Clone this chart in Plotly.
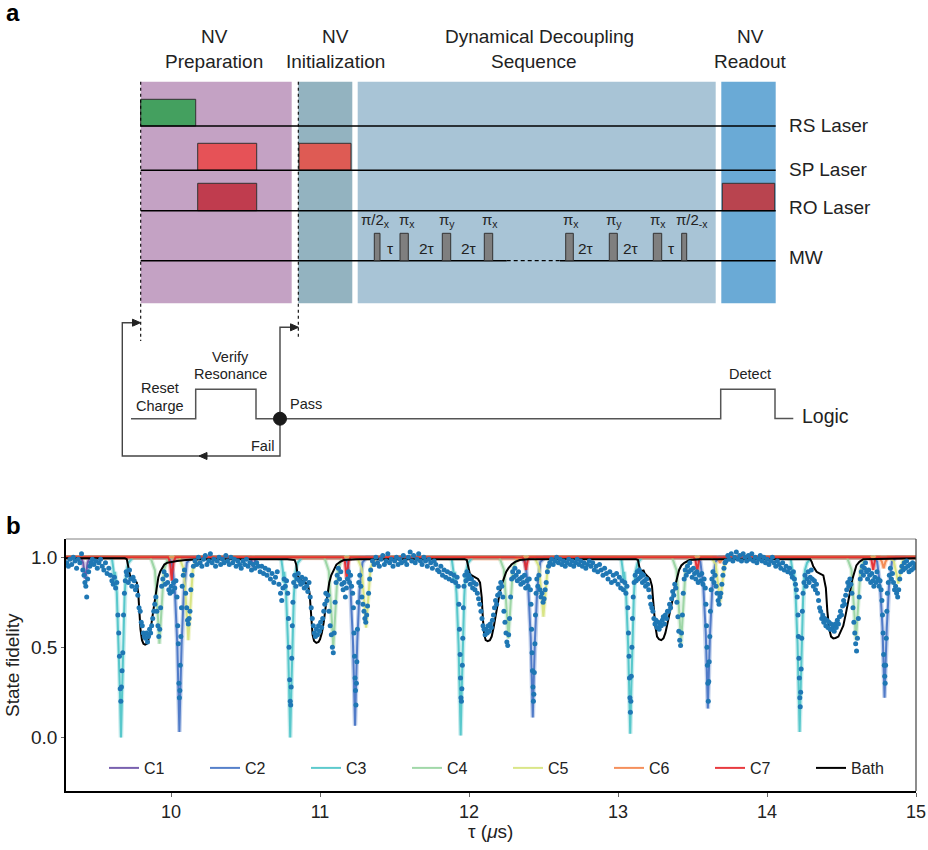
import plotly.graph_objects as go

W, H = 928, 850
FONT = "Liberation Sans, Arial, sans-serif"

# ---------------- panel b data ----------------
X_TICKS = [10, 11, 12, 13, 14, 15]
Y_TICKS = [0.0, 0.5, 1.0]
SERIES_NAMES = ["C1", "C2", "C3", "C4", "C5", "C6", "C7", "Bath"]
SERIES_COLORS = ["#6a50a6", "#4472c4", "#4cc4c8", "#97d4a0", "#d6e37c", "#f4844a", "#e5262b", "#000000"]

C1_TAU = [9.295, 9.395, 9.410, 9.418, 9.425, 9.432, 9.440, 9.455, 10.530, 10.543, 10.552, 10.561, 10.575, 15.0]
C1_FID = [1.0, 1.0, 0.97, 0.92, 0.88, 0.92, 0.97, 1.0, 1.0, 0.975, 0.945, 0.975, 1.0, 1.0]

C2_TAU = [9.295, 9.976, 10.006, 10.026, 10.042, 10.049, 10.056, 10.063, 10.071, 10.086, 10.106, 10.136,
          11.155, 11.185, 11.205, 11.221, 11.228, 11.235, 11.242, 11.250, 11.265, 11.285, 11.315,
          12.348, 12.378, 12.398, 12.414, 12.421, 12.428, 12.435, 12.443, 12.458, 12.478, 12.508,
          13.523, 13.553, 13.573, 13.589, 13.596, 13.603, 13.610, 13.618, 13.633, 13.653, 13.683,
          14.709, 14.739, 14.759, 14.775, 14.782, 14.789, 14.796, 14.804, 14.819, 14.839, 14.869, 15.0]
C2_FID = [1.0, 1.0, 0.97, 0.81, 0.515, 0.27, 0.03, 0.27, 0.515, 0.81, 0.97, 1.0,
          1.0, 0.972, 0.813, 0.533, 0.30, 0.065, 0.30, 0.533, 0.813, 0.972, 1.0,
          1.0, 0.973, 0.822, 0.555, 0.333, 0.11, 0.333, 0.555, 0.822, 0.973, 1.0,
          1.0, 0.975, 0.832, 0.58, 0.37, 0.16, 0.37, 0.58, 0.832, 0.975, 1.0,
          1.0, 0.977, 0.844, 0.61, 0.415, 0.22, 0.415, 0.61, 0.844, 0.977, 1.0, 1.0]

C3_TAU = [9.295,
          9.574, 9.604, 9.614, 9.619, 9.624, 9.636, 9.650, 9.657, 9.664, 9.671, 9.678, 9.688, 9.694, 9.700, 9.714, 9.744,
          10.710, 10.740, 10.750, 10.755, 10.760, 10.772, 10.786, 10.793, 10.800, 10.807, 10.814, 10.824, 10.830, 10.836, 10.850, 10.880,
          11.854, 11.884, 11.894, 11.899, 11.904, 11.916, 11.930, 11.937, 11.944, 11.951, 11.958, 11.968, 11.974, 11.980, 11.994, 12.024,
          12.992, 13.022, 13.032, 13.037, 13.042, 13.054, 13.068, 13.075, 13.082, 13.089, 13.096, 13.106, 13.112, 13.118, 13.132, 13.162,
          14.129, 14.159, 14.169, 14.174, 14.179, 14.191, 14.205, 14.212, 14.219, 14.226, 14.233, 14.243, 14.249, 14.255, 14.269, 14.299,
          15.0]
C3_FID = [1.0,
          1.0, 0.99, 0.93, 0.86, 0.92, 0.80, 0.50, 0.25, 0.00, 0.25, 0.50, 0.78, 0.86, 0.92, 0.97, 1.0,
          1.0, 0.99, 0.93, 0.86, 0.92, 0.80, 0.50, 0.25, 0.00, 0.25, 0.50, 0.78, 0.86, 0.92, 0.97, 1.0,
          1.0, 0.99, 0.93, 0.87, 0.92, 0.80, 0.51, 0.26, 0.01, 0.26, 0.51, 0.78, 0.87, 0.92, 0.97, 1.0,
          1.0, 0.99, 0.93, 0.87, 0.92, 0.80, 0.51, 0.27, 0.02, 0.27, 0.51, 0.78, 0.87, 0.92, 0.97, 1.0,
          1.0, 0.99, 0.94, 0.88, 0.93, 0.81, 0.52, 0.27, 0.03, 0.27, 0.52, 0.79, 0.88, 0.93, 0.97, 1.0,
          1.0]

C4_TAU = [9.295,
          9.862, 9.892, 9.907, 9.914, 9.922, 9.930, 9.937, 9.952, 9.982,
          11.029, 11.059, 11.074, 11.081, 11.089, 11.097, 11.104, 11.119, 11.149,
          12.204, 12.234, 12.249, 12.256, 12.264, 12.272, 12.279, 12.294, 12.324,
          13.363, 13.393, 13.408, 13.415, 13.423, 13.431, 13.438, 13.453, 13.483,
          14.537, 14.567, 14.582, 14.589, 14.597, 14.605, 14.612, 14.627, 14.657,
          15.0]
C4_FID = [1.0,
          1.0, 0.928, 0.76, 0.64, 0.52, 0.64, 0.76, 0.928, 1.0,
          1.0, 0.925, 0.75, 0.625, 0.50, 0.625, 0.75, 0.925, 1.0,
          1.0, 0.933, 0.775, 0.663, 0.55, 0.663, 0.775, 0.933, 1.0,
          1.0, 0.928, 0.76, 0.64, 0.52, 0.64, 0.76, 0.928, 1.0,
          1.0, 0.931, 0.77, 0.655, 0.54, 0.655, 0.77, 0.931, 1.0,
          1.0]

C5_TAU = [9.295,
          10.056, 10.086, 10.101, 10.108, 10.116, 10.124, 10.131, 10.146, 10.176,
          11.249, 11.279, 11.294, 11.301, 11.309, 11.317, 11.324, 11.339, 11.369,
          12.439, 12.469, 12.484, 12.491, 12.499, 12.507, 12.514, 12.529, 12.559,
          13.625, 13.655, 13.670, 13.677, 13.685, 13.693, 13.700, 13.715, 13.745,
          14.821, 14.851, 14.866, 14.873, 14.881, 14.889, 14.896, 14.911, 14.941,
          15.0]
C5_FID = [1.0,
          1.0, 0.931, 0.77, 0.655, 0.54, 0.655, 0.77, 0.931, 1.0,
          1.0, 0.94, 0.805, 0.708, 0.61, 0.708, 0.805, 0.94, 1.0,
          1.0, 0.95, 0.835, 0.753, 0.67, 0.753, 0.835, 0.95, 1.0,
          1.0, 0.963, 0.875, 0.813, 0.75, 0.813, 0.875, 0.963, 1.0,
          1.0, 0.978, 0.928, 0.891, 0.855, 0.891, 0.928, 0.978, 1.0,
          1.0]

C6_TAU = [9.295, 12.300, 12.318, 12.330, 12.342, 12.360, 13.655, 13.673, 13.685, 13.697, 13.715,
          14.753, 14.771, 14.783, 14.795, 14.813, 15.0]
C6_FID = [1.0, 1.0, 0.994, 0.985, 0.994, 1.0, 1.0, 0.988, 0.97, 0.988, 1.0,
          1.0, 0.976, 0.94, 0.976, 1.0, 1.0]

C7_TAU = [9.295,
          9.980, 9.993, 10.000, 10.005, 10.010, 10.017, 10.030,
          11.154, 11.167, 11.174, 11.179, 11.184, 11.191, 11.204,
          12.358, 12.371, 12.378, 12.383, 12.388, 12.395, 12.408,
          13.507, 13.520, 13.527, 13.532, 13.537, 13.544, 13.557,
          14.688, 14.701, 14.708, 14.713, 14.718, 14.725, 14.738,
          15.0]
C7_FID = [1.0,
          1.0, 0.974, 0.922, 0.87, 0.922, 0.974, 1.0,
          1.0, 0.976, 0.928, 0.88, 0.928, 0.976, 1.0,
          1.0, 0.986, 0.958, 0.93, 0.958, 0.986, 1.0,
          1.0, 0.984, 0.952, 0.92, 0.952, 0.984, 1.0,
          1.0, 0.986, 0.958, 0.93, 0.958, 0.986, 1.0,
          1.0]

BATH_TAU = [9.295, 9.690, 9.703, 9.715, 9.727, 9.740, 9.755, 9.770, 9.780, 9.787, 9.795, 9.805, 9.815, 9.826,
            9.838, 9.848, 9.860, 9.870, 9.882, 9.893, 9.905, 9.915, 9.927, 9.940, 9.955, 9.975, 10.000, 10.040,
            10.100, 10.200, 10.780,
            10.830, 10.840, 10.850, 10.862, 10.880, 10.900, 10.918, 10.930, 10.940, 10.950, 10.960, 10.975, 10.990,
            11.000, 11.012, 11.025, 11.037, 11.050, 11.062, 11.075, 11.090, 11.110, 11.135, 11.160, 11.250, 11.970,
            11.985, 11.995, 12.005, 12.018, 12.040, 12.060, 12.074, 12.085, 12.093, 12.102, 12.112, 12.125, 12.140,
            12.152, 12.165, 12.178, 12.190, 12.205, 12.220, 12.235, 12.250, 12.265, 12.285, 12.310, 12.340, 12.400,
            13.120,
            13.134, 13.145, 13.157, 13.170, 13.180, 13.195, 13.215, 13.228, 13.240, 13.250, 13.262, 13.275, 13.290,
            13.305, 13.318, 13.332, 13.350, 13.365, 13.380, 13.395, 13.410, 13.425, 13.445, 13.480, 13.550, 14.290,
            14.300, 14.310, 14.333, 14.355, 14.378, 14.395, 14.405, 14.418, 14.430, 14.445, 14.460, 14.479, 14.495,
            14.512, 14.530, 14.546, 14.560, 14.570, 14.585, 14.600, 14.620, 14.646, 15.0]
BATH_FID = [0.995, 0.995, 0.99, 0.93, 0.89, 0.88, 0.87, 0.86, 0.80, 0.70, 0.60, 0.54, 0.52, 0.515,
            0.52, 0.54, 0.59, 0.64, 0.71, 0.78, 0.85, 0.89, 0.92, 0.94, 0.96, 0.97, 0.975, 0.98,
            0.985, 0.99, 0.99,
            0.985, 0.96, 0.90, 0.88, 0.87, 0.86, 0.85, 0.80, 0.68, 0.57, 0.535, 0.525, 0.53,
            0.545, 0.58, 0.64, 0.72, 0.80, 0.86, 0.90, 0.93, 0.96, 0.975, 0.985, 0.99, 0.99,
            0.985, 0.95, 0.91, 0.90, 0.89, 0.88, 0.86, 0.78, 0.66, 0.57, 0.54, 0.535, 0.54,
            0.56, 0.61, 0.68, 0.74, 0.80, 0.85, 0.89, 0.92, 0.94, 0.96, 0.975, 0.985, 0.99,
            0.99,
            0.985, 0.94, 0.915, 0.93, 0.91, 0.895, 0.88, 0.84, 0.72, 0.62, 0.56, 0.545, 0.54,
            0.55, 0.58, 0.63, 0.69, 0.76, 0.83, 0.89, 0.93, 0.955, 0.97, 0.985, 0.99, 0.99,
            0.975, 0.95, 0.92, 0.91, 0.90, 0.83, 0.70, 0.60, 0.56, 0.55, 0.552, 0.56, 0.585,
            0.62, 0.69, 0.75, 0.82, 0.87, 0.92, 0.955, 0.975, 0.99, 0.995]

DOT_TAU = (
    [9.300, 9.311, 9.322, 9.333, 9.344, 9.355, 9.366, 9.377, 9.388, 9.399]
    + [9.408, 9.416, 9.422, 9.428, 9.434, 9.440, 9.447, 9.455, 9.463]
    + [9.472, 9.483, 9.494, 9.505, 9.516, 9.527, 9.538, 9.549, 9.560, 9.571, 9.582, 9.593]
    + [9.603, 9.612, 9.620, 9.628, 9.636, 9.643, 9.649, 9.654, 9.659, 9.663, 9.667, 9.671, 9.676, 9.681, 9.687, 9.693, 9.699]
    + [9.705, 9.713, 9.721, 9.729, 9.737, 9.745, 9.753, 9.761, 9.769, 9.777, 9.785, 9.793]
    + [9.800, 9.807, 9.814, 9.821, 9.828, 9.835, 9.842, 9.849, 9.856, 9.863, 9.870]
    + [9.877, 9.884, 9.891, 9.898, 9.905, 9.912, 9.918, 9.924, 9.930, 9.937]
    + [9.945, 9.953, 9.961, 9.969, 9.977, 9.985, 9.993, 10.001, 10.009, 10.017, 10.025, 10.033]
    + [10.040, 10.045, 10.049, 10.053, 10.056, 10.059, 10.062, 10.066, 10.070, 10.075]
    + [10.082, 10.090, 10.098, 10.105, 10.111, 10.116, 10.121, 10.127, 10.133, 10.140]
    + [10.150, 10.161, 10.172, 10.184, 10.195, 10.207, 10.218, 10.230, 10.241, 10.253, 10.264, 10.276, 10.287,
       10.299, 10.310, 10.322, 10.333, 10.345, 10.356, 10.368, 10.379, 10.391, 10.402, 10.414, 10.425, 10.437,
       10.448, 10.460, 10.471, 10.483, 10.494, 10.506, 10.517, 10.529, 10.540, 10.552, 10.563, 10.575, 10.586, 10.598]
    + [10.609, 10.621, 10.632, 10.644, 10.655, 10.667, 10.678, 10.690, 10.701, 10.713, 10.724, 10.735, 10.743, 10.751, 10.759, 10.767, 10.775]
    + [10.783, 10.788, 10.792, 10.796, 10.800, 10.803, 10.806, 10.810, 10.814, 10.818]
    + [10.823, 10.830, 10.838, 10.846, 10.854, 10.862, 10.870, 10.878, 10.886, 10.894, 10.902, 10.910, 10.918, 10.926, 10.934]
    + [10.941, 10.948, 10.955, 10.962, 10.969, 10.976, 10.983, 10.990, 10.997, 11.004, 11.011, 11.018, 11.025, 11.032]
    + [11.039, 11.046, 11.053, 11.060, 11.068, 11.076, 11.083, 11.089, 11.095, 11.101, 11.108]
    + [11.115, 11.123, 11.131, 11.139, 11.147, 11.155, 11.162, 11.170, 11.177, 11.184, 11.191, 11.198, 11.205, 11.212, 11.219]
    + [11.224, 11.228, 11.232, 11.235, 11.238, 11.241, 11.244, 11.247, 11.251, 11.255]
    + [11.260, 11.267, 11.274, 11.281, 11.288, 11.295, 11.301, 11.307, 11.313, 11.319, 11.326, 11.333]
    + [11.340, 11.352, 11.363, 11.375, 11.386, 11.398, 11.409, 11.421, 11.432, 11.444, 11.455, 11.467, 11.478,
       11.490, 11.501, 11.513, 11.524, 11.536, 11.547, 11.559, 11.570, 11.582, 11.593, 11.605, 11.616, 11.628,
       11.639, 11.651, 11.662, 11.674, 11.685, 11.697, 11.708, 11.720, 11.731, 11.743, 11.754, 11.766, 11.777, 11.789]
    + [11.800, 11.811, 11.822, 11.833, 11.844, 11.855, 11.866, 11.877, 11.888, 11.899, 11.910, 11.920, 11.928]
    + [11.932, 11.936, 11.940, 11.943, 11.946, 11.949, 11.952, 11.955, 11.958, 11.962]
    + [11.966, 11.972, 11.979, 11.986, 11.993, 12.000, 12.008, 12.016, 12.024, 12.032, 12.040, 12.048, 12.056, 12.064, 12.072, 12.080]
    + [12.087, 12.094, 12.101, 12.108, 12.115, 12.122, 12.129, 12.136, 12.143, 12.150, 12.157, 12.164]
    + [12.171, 12.178, 12.185, 12.192, 12.199, 12.206, 12.213, 12.220, 12.227, 12.234, 12.241, 12.248, 12.254, 12.260, 12.266, 12.272, 12.279, 12.286]
    + [12.293, 12.300, 12.308, 12.316, 12.324, 12.332, 12.340, 12.348, 12.356, 12.364, 12.372, 12.380, 12.388, 12.396, 12.404, 12.412]
    + [12.416, 12.420, 12.423, 12.426, 12.429, 12.432, 12.435, 12.438, 12.442, 12.446, 12.450]
    + [12.455, 12.462, 12.469, 12.476, 12.483, 12.490, 12.497, 12.504, 12.511, 12.518, 12.526, 12.534]
    + [12.542, 12.554, 12.565, 12.577, 12.588, 12.600, 12.611, 12.623, 12.634, 12.646, 12.657, 12.669, 12.680,
       12.692, 12.703, 12.715, 12.726, 12.738, 12.749, 12.761, 12.772, 12.784, 12.795, 12.807, 12.818, 12.830,
       12.841, 12.853, 12.864, 12.876, 12.887, 12.899, 12.910, 12.922, 12.933, 12.945, 12.956, 12.968, 12.979]
    + [12.990, 13.000, 13.009, 13.018, 13.027, 13.036, 13.045, 13.053, 13.060]
    + [13.066, 13.070, 13.074, 13.077, 13.080, 13.083, 13.086, 13.089, 13.093, 13.097, 13.102]
    + [13.108, 13.115, 13.122, 13.129, 13.136, 13.143, 13.150, 13.157, 13.164, 13.171, 13.178, 13.185, 13.192, 13.199, 13.206, 13.213, 13.220, 13.227, 13.234]
    + [13.241, 13.248, 13.255, 13.262, 13.269, 13.276, 13.283, 13.290, 13.297, 13.304, 13.311, 13.318, 13.325, 13.332]
    + [13.339, 13.346, 13.353, 13.360, 13.367, 13.374, 13.381, 13.388, 13.395, 13.402, 13.408, 13.414, 13.420, 13.426, 13.432, 13.438, 13.444]
    + [13.451, 13.458, 13.466, 13.474, 13.482, 13.490, 13.498, 13.506, 13.514, 13.522, 13.530, 13.538, 13.546, 13.554, 13.562, 13.570, 13.578, 13.586]
    + [13.590, 13.594, 13.597, 13.600, 13.603, 13.606, 13.609, 13.612, 13.616, 13.620, 13.625]
    + [13.630, 13.637, 13.644, 13.651, 13.658, 13.665, 13.672, 13.678, 13.684, 13.690, 13.697, 13.704, 13.711, 13.718]
    + [13.725, 13.737, 13.748, 13.760, 13.771, 13.783, 13.794, 13.806, 13.817, 13.829, 13.840, 13.852, 13.863,
       13.875, 13.886, 13.898, 13.909, 13.921, 13.932, 13.944, 13.955, 13.967, 13.978, 13.990, 14.001, 14.013,
       14.024, 14.036, 14.047, 14.059, 14.070, 14.082, 14.093, 14.105, 14.116, 14.128, 14.139, 14.151, 14.162]
    + [14.170, 14.177, 14.184, 14.191, 14.197, 14.203]
    + [14.208, 14.211, 14.214, 14.217, 14.220, 14.223, 14.226, 14.229, 14.233, 14.237, 14.242]
    + [14.248, 14.255, 14.262, 14.269, 14.276, 14.283, 14.290, 14.297, 14.304, 14.311, 14.318, 14.325, 14.332, 14.339, 14.346, 14.353]
    + [14.360, 14.367, 14.374, 14.381, 14.388, 14.395, 14.402, 14.409, 14.416, 14.423, 14.430, 14.437, 14.444,
       14.451, 14.458, 14.465, 14.472, 14.479, 14.486, 14.493, 14.500]
    + [14.507, 14.514, 14.521, 14.528, 14.535, 14.542, 14.549, 14.556, 14.563, 14.570, 14.577, 14.583, 14.589, 14.595, 14.601, 14.607, 14.613, 14.619, 14.626]
    + [14.633, 14.640, 14.647, 14.654, 14.661, 14.668, 14.675, 14.682, 14.689, 14.696, 14.703, 14.710, 14.717, 14.724, 14.731, 14.738, 14.745, 14.752, 14.759, 14.766]
    + [14.771, 14.775, 14.779, 14.783, 14.787, 14.790, 14.793, 14.796, 14.800, 14.804, 14.808]
    + [14.814, 14.821, 14.828, 14.835, 14.842, 14.849, 14.856, 14.863, 14.870, 14.877, 14.884, 14.891, 14.898,
       14.905, 14.913, 14.921, 14.929, 14.937, 14.945, 14.953, 14.961, 14.969, 14.977, 14.985, 14.993]
)
DOT_FID = (
    [0.97, 0.95, 0.99, 0.96, 1.00, 0.98, 0.94, 0.99, 0.97, 1.02]
    + [0.93, 0.90, 0.86, 0.84, 0.78, 0.88, 0.92, 0.95, 0.97]
    + [0.99, 0.96, 0.98, 0.94, 0.97, 0.99, 0.95, 0.93, 0.97, 0.91, 0.94, 0.90]
    + [0.87, 0.85, 0.89, 0.83, 0.86, 0.68, 0.58, 0.45, 0.27, 0.20, 0.28, 0.37, 0.47, 0.68, 0.80, 0.87, 0.92]
    + [0.90, 0.86, 0.93, 0.88, 0.84, 0.89, 0.87, 0.82, 0.84, 0.79, 0.72, 0.70]
    + [0.64, 0.62, 0.58, 0.56, 0.55, 0.58, 0.53, 0.56, 0.60, 0.58, 0.62]
    + [0.66, 0.70, 0.74, 0.78, 0.70, 0.62, 0.56, 0.60, 0.72, 0.84]
    + [0.88, 0.92, 0.85, 0.90, 0.86, 0.82, 0.80, 0.84, 0.81, 0.86, 0.83, 0.87]
    + [0.78, 0.62, 0.52, 0.30, 0.22, 0.26, 0.40, 0.56, 0.72, 0.84]
    + [0.90, 0.93, 0.80, 0.72, 0.65, 0.63, 0.66, 0.70, 0.82, 0.90]
    + [0.95, 0.98, 0.96, 1.00, 0.97, 0.95, 0.99, 1.01, 0.96, 0.98, 1.02, 0.97, 0.99,
       0.95, 0.98, 1.00, 0.96, 0.99, 0.97, 1.01, 0.98, 0.96, 1.00, 0.97, 0.99, 0.95,
       0.98, 0.96, 0.94, 0.98, 0.96, 0.99, 0.95, 0.97, 0.93, 0.96, 0.94, 0.97, 0.95, 0.92]
    + [0.95, 0.91, 0.94, 0.90, 0.93, 0.88, 0.91, 0.86, 0.89, 0.92, 0.85, 0.80, 0.76, 0.83, 0.88, 0.84, 0.87]
    + [0.80, 0.66, 0.50, 0.32, 0.20, 0.18, 0.28, 0.44, 0.62, 0.75]
    + [0.86, 0.90, 0.84, 0.88, 0.91, 0.87, 0.85, 0.89, 0.86, 0.83, 0.88, 0.84, 0.81, 0.86, 0.78]
    + [0.72, 0.66, 0.62, 0.58, 0.56, 0.60, 0.57, 0.62, 0.59, 0.64, 0.61, 0.66, 0.70, 0.74]
    + [0.80, 0.76, 0.79, 0.70, 0.62, 0.57, 0.50, 0.47, 0.58, 0.75, 0.86]
    + [0.90, 0.94, 0.88, 0.92, 0.85, 0.82, 0.86, 0.78, 0.83, 0.88, 0.92, 0.86, 0.90, 0.84, 0.80]
    + [0.72, 0.58, 0.45, 0.33, 0.26, 0.18, 0.30, 0.42, 0.60, 0.75]
    + [0.86, 0.90, 0.84, 0.78, 0.74, 0.70, 0.66, 0.64, 0.68, 0.73, 0.80, 0.88]
    + [0.93, 0.98, 0.96, 1.00, 0.97, 0.95, 0.99, 1.01, 0.96, 0.98, 1.02, 0.97, 0.99,
       0.95, 0.98, 1.00, 0.96, 0.99, 0.97, 1.01, 0.98, 0.96, 1.00, 1.03, 0.98, 1.01,
       0.97, 0.99, 1.02, 0.98, 0.96, 1.00, 0.98, 0.95, 0.99, 0.97, 0.94, 0.98, 0.96, 0.93]
    + [0.92, 0.95, 0.90, 0.93, 0.89, 0.92, 0.88, 0.91, 0.87, 0.90, 0.86, 0.89, 0.84]
    + [0.74, 0.60, 0.46, 0.33, 0.22, 0.20, 0.27, 0.40, 0.55, 0.72]
    + [0.84, 0.90, 0.87, 0.92, 0.88, 0.90, 0.85, 0.88, 0.83, 0.86, 0.82, 0.85, 0.80, 0.77, 0.74, 0.70]
    + [0.66, 0.62, 0.60, 0.57, 0.60, 0.58, 0.62, 0.59, 0.63, 0.61, 0.65, 0.68]
    + [0.72, 0.76, 0.74, 0.79, 0.83, 0.80, 0.86, 0.84, 0.78, 0.70, 0.64, 0.58, 0.53, 0.51, 0.57, 0.66, 0.78, 0.88]
    + [0.92, 0.89, 0.94, 0.90, 0.87, 0.92, 0.88, 0.85, 0.89, 0.86, 0.90, 0.83, 0.87, 0.84, 0.88, 0.82]
    + [0.74, 0.60, 0.47, 0.37, 0.28, 0.20, 0.24, 0.36, 0.52, 0.68, 0.80]
    + [0.88, 0.84, 0.90, 0.82, 0.78, 0.80, 0.75, 0.77, 0.82, 0.86, 0.92, 0.95]
    + [0.97, 0.99, 0.96, 0.98, 1.00, 0.97, 0.99, 0.96, 0.98, 0.95, 0.97, 0.99, 0.96,
       0.98, 0.95, 0.97, 0.99, 0.96, 0.98, 0.95, 0.97, 0.94, 0.96, 0.98, 0.95, 0.97,
       0.93, 0.95, 0.92, 0.96, 0.93, 0.90, 0.94, 0.91, 0.88, 0.92, 0.86, 0.90, 0.87]
    + [0.91, 0.85, 0.89, 0.83, 0.87, 0.82, 0.86, 0.80, 0.84]
    + [0.72, 0.58, 0.45, 0.33, 0.22, 0.14, 0.20, 0.34, 0.50, 0.66, 0.78]
    + [0.86, 0.90, 0.87, 0.92, 0.88, 0.93, 0.89, 0.91, 0.86, 0.90, 0.87, 0.84, 0.88, 0.85, 0.82, 0.78, 0.74, 0.72, 0.70]
    + [0.66, 0.63, 0.65, 0.61, 0.64, 0.60, 0.63, 0.62, 0.65, 0.67, 0.63, 0.68, 0.66, 0.70]
    + [0.70, 0.74, 0.72, 0.77, 0.81, 0.79, 0.85, 0.83, 0.75, 0.67, 0.59, 0.54, 0.51, 0.58, 0.68, 0.80, 0.88]
    + [0.93, 0.90, 0.95, 0.92, 0.97, 0.93, 0.89, 0.94, 0.91, 0.88, 0.92, 0.86, 0.90, 0.87, 0.91, 0.85, 0.88, 0.83]
    + [0.74, 0.62, 0.50, 0.40, 0.30, 0.20, 0.31, 0.42, 0.56, 0.70, 0.82]
    + [0.88, 0.92, 0.86, 0.90, 0.84, 0.80, 0.76, 0.74, 0.78, 0.80, 0.85, 0.90, 0.94, 0.97]
    + [0.98, 1.01, 0.99, 1.02, 0.98, 1.00, 1.03, 0.99, 1.01, 0.98, 1.02, 1.00, 0.98,
       1.01, 0.99, 1.02, 0.98, 1.00, 0.97, 0.99, 1.01, 0.98, 1.00, 0.97, 0.99, 0.96,
       0.98, 1.00, 0.97, 0.95, 0.98, 0.96, 0.94, 0.97, 0.93, 0.95, 0.92, 0.94, 0.91]
    + [0.89, 0.92, 0.88, 0.85, 0.82, 0.78]
    + [0.68, 0.56, 0.44, 0.33, 0.22, 0.17, 0.25, 0.38, 0.55, 0.70, 0.80]
    + [0.86, 0.90, 0.84, 0.88, 0.92, 0.86, 0.89, 0.93, 0.88, 0.84, 0.87, 0.82, 0.85, 0.80, 0.76, 0.72]
    + [0.70, 0.66, 0.68, 0.64, 0.66, 0.62, 0.65, 0.61, 0.64, 0.60, 0.63, 0.60, 0.62,
       0.59, 0.63, 0.61, 0.65, 0.63, 0.67, 0.70, 0.68]
    + [0.73, 0.76, 0.74, 0.79, 0.82, 0.86, 0.84, 0.88, 0.85, 0.80, 0.72, 0.64, 0.58, 0.52, 0.48, 0.55, 0.66, 0.78, 0.88]
    + [0.92, 0.95, 0.90, 0.94, 0.97, 0.92, 0.88, 0.93, 0.90, 0.86, 0.91, 0.87, 0.84, 0.89, 0.86, 0.92, 0.88, 0.84, 0.87, 0.82]
    + [0.76, 0.68, 0.58, 0.46, 0.40, 0.34, 0.30, 0.40, 0.55, 0.70, 0.80]
    + [0.86, 0.90, 0.94, 0.88, 0.91, 0.86, 0.82, 0.84, 0.80, 0.78, 0.82, 0.88, 0.92,
       0.95, 0.93, 0.97, 0.94, 0.98, 0.95, 0.92, 0.96, 0.93, 0.97, 0.94, 0.96]
)
assert len(DOT_TAU) == len(DOT_FID), (len(DOT_TAU), len(DOT_FID))

CURVES = [(C1_TAU, C1_FID), (C2_TAU, C2_FID), (C3_TAU, C3_FID), (C4_TAU, C4_FID),
          (C5_TAU, C5_FID), (C6_TAU, C6_FID), (C7_TAU, C7_FID), (BATH_TAU, BATH_FID)]
for t, f in CURVES:
    assert len(t) == len(f), (len(t), len(f))

# ---------------- figure ----------------
fig = go.Figure()
# faint halo under the coloured model curves
for name, color, (t, f) in zip(SERIES_NAMES[:-1], SERIES_COLORS[:-1], CURVES[:-1]):
    fig.add_trace(go.Scatter(x=t, y=f, mode="lines", showlegend=False, hoverinfo="skip",
                             line=dict(color=color, width=4.5), opacity=0.3))
for name, color, (t, f) in zip(SERIES_NAMES, SERIES_COLORS, CURVES):
    fig.add_trace(go.Scatter(x=t, y=f, mode="lines", name=name,
                             line=dict(color=color, width=2.0),
                             opacity=1.0 if name == "Bath" else 0.9))
fig.add_trace(go.Scatter(x=DOT_TAU, y=DOT_FID, mode="markers", showlegend=False,
                         marker=dict(color="#1f77b4", size=5, line=dict(width=0))))


def X(px):
    return px / W


def Y(py):
    return 1 - py / H


shapes = []
annotations = []


def rect(x0, y0, x1, y1, fill, line_color=None, lw=0):
    shapes.append(dict(type="rect", xref="paper", yref="paper", x0=X(x0), x1=X(x1), y0=Y(y1), y1=Y(y0),
                       fillcolor=fill, line=dict(color=line_color or fill, width=lw)))


def seg(x0, y0, x1, y1, color="black", lw=1.5, dash="solid"):
    shapes.append(dict(type="line", xref="paper", yref="paper", x0=X(x0), y0=Y(y0), x1=X(x1), y1=Y(y1),
                       line=dict(color=color, width=lw, dash=dash)))


def poly(points, color, lw=1.5, fill=None, close=False):
    d = "M " + " L ".join(f"{X(x):.5f},{Y(y):.5f}" for x, y in points) + (" Z" if close else "")
    shapes.append(dict(type="path", xref="paper", yref="paper", path=d,
                       fillcolor=fill or "rgba(0,0,0,0)", line=dict(color=color, width=lw)))


def text(x, y, s, size=19, xanchor="center", color="#222", bold=False, angle=0):
    annotations.append(dict(xref="paper", yref="paper", x=X(x), y=Y(y), text=f"<b>{s}</b>" if bold else s,
                            showarrow=False, xanchor=xanchor, yanchor="middle", textangle=angle,
                            font=dict(family=FONT, size=size, color=color)))


# phase boxes
rect(140.7, 81.7, 291.7, 303.3, "#c4a2c4")
rect(298.3, 81.7, 352.3, 303.3, "#93b3c0")
rect(357.7, 81.7, 715.7, 303.3, "#a8c4d6")
rect(721.3, 81.7, 775.7, 303.3, "#6aaad6")

# laser pulses
rect(140.7, 99.3, 195.7, 126, "#44a05f", "#333333", 1)
rect(197.7, 143.3, 256.7, 170.3, "#e65257", "#333333", 1)
rect(299.0, 143.3, 351.0, 170.3, "#de5b54", "#333333", 1)
rect(197.7, 183.3, 256.7, 210.7, "#c03c4e", "#333333", 1)
rect(722.3, 183.3, 774.7, 210.7, "#b9444f", "#333333", 1)

# channel lines
for yy in (126, 170.3, 210.7):
    seg(140.7, yy, 775.7, yy, "black", 1.5)
seg(140.7, 260.7, 506.7, 260.7, "black", 1.5)
seg(506.7, 260.7, 560, 260.7, "black", 1.2, "4px,3px")
seg(560, 260.7, 775.7, 260.7, "black", 1.5)

# MW pulses
for x0, x1 in [(374.3, 380), (400, 408.3), (442.3, 450.7), (484.3, 492.7),
               (565.7, 573.3), (609.3, 617.3), (653.3, 661.7), (681.7, 686.7)]:
    rect(x0, 233.3, x1, 260.7, "#7f7f7f", "#333333", 1)

# dotted markers
seg(140.7, 81.7, 140.7, 341, "black", 1.1, "dot")
seg(298.3, 81.7, 298.3, 338, "black", 1.1, "dot")

# logic loop
poly([(133, 322.7), (122.3, 322.7), (122.3, 456), (280, 456), (280, 327.3), (291, 327.3)], "#444444", 1.4)
poly([(140.5, 322.7), (132.5, 319.2), (132.5, 326.2)], "#222222", 1, "#222222", True)
poly([(199, 456), (207, 452.5), (207, 459.5)], "#222222", 1, "#222222", True)
poly([(298.5, 327.3), (290.5, 323.8), (290.5, 330.8)], "#222222", 1, "#222222", True)
poly([(131, 418.7), (195.7, 418.7), (195.7, 389.3), (256, 389.3), (256, 418.7), (720.7, 418.7),
      (720.7, 389.3), (775, 389.3), (775, 418.5), (793.3, 418.5)], "#555555", 1.5)
shapes.append(dict(type="circle", xref="paper", yref="paper", x0=X(273.5), x1=X(286.5), y0=Y(425.2), y1=Y(412.2),
                   fillcolor="#1a1a1a", line=dict(color="#1a1a1a", width=1)))

# panel a texts
text(13, 13, "a", 24, bold=True, color="black")
text(214.3, 36.7, "NV")
text(214.3, 61, "Preparation")
text(335, 36.7, "NV")
text(335, 61, "Initialization")
text(539, 36.7, "Dynamical Decoupling")
text(534, 61, "Sequence")
text(750, 36.7, "NV")
text(750, 61, "Readout")
text(787, 125.5, "RS Laser", 19, "left")
text(787, 169, "SP Laser", 19, "left")
text(787, 207, "RO Laser", 19, "left")
text(787, 257, "MW", 19, "left")
for xc, lab in [(375, "π/2<sub>x</sub>"), (407, "π<sub>x</sub>"), (447, "π<sub>y</sub>"), (490, "π<sub>x</sub>"),
                (570.5, "π<sub>x</sub>"), (614, "π<sub>y</sub>"), (657.5, "π<sub>x</sub>"), (692, "π/2<sub>-x</sub>")]:
    text(xc, 220.5, lab, 15)
for xc, lab in [(390, "τ"), (426, "2τ"), (468.3, "2τ"), (585, "2τ"), (630.7, "2τ"), (671, "τ")]:
    text(xc, 248.3, lab, 15.5)
text(160, 388.3, "Reset", 14.5)
text(160, 406, "Charge", 14.5)
text(230, 357.3, "Verify", 14.5)
text(230, 374, "Resonance", 14.5)
text(288.3, 404.3, "Pass", 14.5, "left")
text(275.5, 445.7, "Fail", 14.5, "right")
text(750, 374, "Detect", 14.5)
text(800, 415.7, "Logic", 19.5, "left")

# panel b texts
text(13, 525, "b", 24, bold=True, color="black")
text(12, 665, "State fidelity", 19, angle=-90)
text(491, 831, "τ (<i>μ</i>s)", 19)

# top/right frame of panel b
seg(66, 539, 916, 539, "#808080", 1)
seg(916, 539, 916, 791, "#404040", 1.2)

fig.update_layout(
    width=W, height=H, margin=dict(l=0, r=0, t=0, b=0, autoexpand=False),
    paper_bgcolor="white", plot_bgcolor="white",
    font=dict(family=FONT, color="#222"),
    showlegend=True,
    xaxis=dict(domain=[X(66), X(916)], range=[9.295, 15.0], tickvals=X_TICKS,
               ticks="outside", ticklen=4, tickcolor="#666", tickwidth=1.2,
               showline=True, linecolor="black", linewidth=1.5, showgrid=False, zeroline=False,
               tickfont=dict(size=18, color="#222")),
    yaxis=dict(domain=[Y(791), Y(539)], range=[-0.298, 1.102], tickvals=Y_TICKS, tickformat=".1f",
               ticks="outside", ticklen=3, tickcolor="#666", tickwidth=1.2,
               showline=True, linecolor="black", linewidth=1.5, showgrid=False, zeroline=False,
               tickfont=dict(size=19, color="#222")),
    legend=dict(orientation="h", x=X(104), y=Y(768), xanchor="left", yanchor="middle",
                entrywidth=56, itemwidth=30, bgcolor="rgba(0,0,0,0)",
                font=dict(family=FONT, size=16, color="#222"), tracegroupgap=0),
    shapes=shapes, annotations=annotations,
)

fig.write_html("out.html")
